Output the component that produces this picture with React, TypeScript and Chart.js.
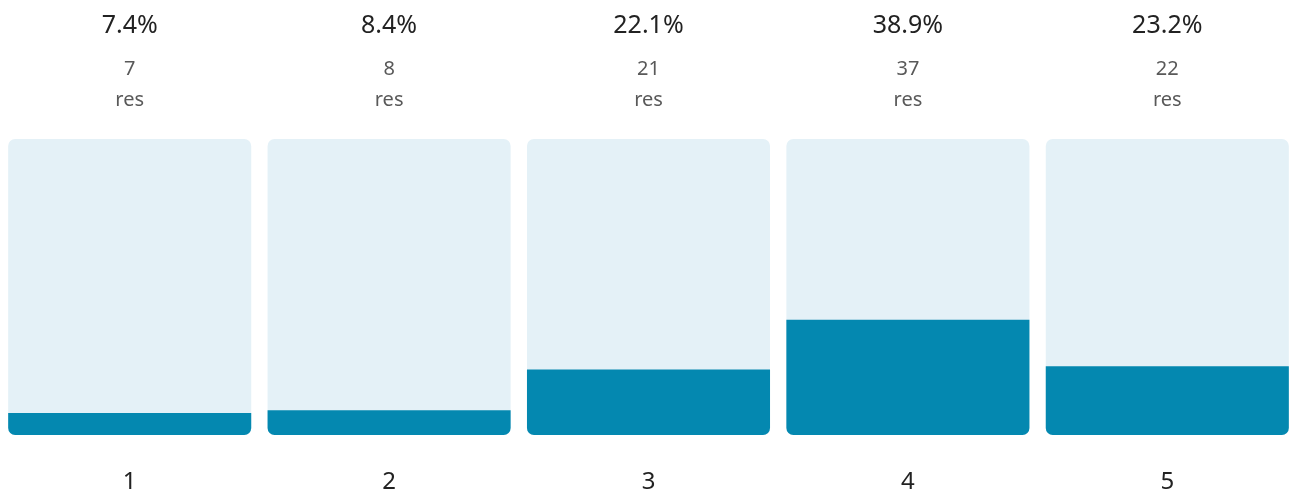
import { useEffect, useRef } from 'react';
import { Chart, registerables } from 'chart.js';

Chart.register(...registerables);

const CATEGORIES = ['1', '2', '3', '4', '5'];
const PERCENTS = [7.4, 8.4, 22.1, 38.9, 23.2];
const COUNTS = [7, 8, 21, 37, 22];
const TRACK = [100, 100, 100, 100, 100];

const DARK = '#0488B0';
const LIGHT = '#E4F1F7';
const FONT = '"Noto Sans", "Open Sans", sans-serif';

const topLabels = {
  id: 'topLabels',
  afterDraw(chart: Chart) {
    const { ctx } = chart;
    const x = chart.scales.x;
    ctx.save();
    ctx.textAlign = 'center';
    ctx.textBaseline = 'middle';
    CATEGORIES.forEach((_, i) => {
      const px = x.getPixelForValue(i);
      ctx.fillStyle = '#222222';
      ctx.font = `25px ${FONT}`;
      ctx.fillText(`${PERCENTS[i]}%`, px, 26);
      ctx.fillStyle = '#595959';
      ctx.font = `20px ${FONT}`;
      ctx.fillText(String(COUNTS[i]), px, 69);
      ctx.fillText('res', px, 100);
    });
    ctx.restore();
  },
};

export default function App() {
  const canvasRef = useRef<HTMLCanvasElement>(null);
  const chartRef = useRef<Chart | null>(null);

  useEffect(() => {
    document.body.style.margin = '0';
    if (!canvasRef.current) return;
    if (chartRef.current) chartRef.current.destroy();

    chartRef.current = new Chart(canvasRef.current, {
      type: 'bar',
      data: {
        labels: CATEGORIES,
        datasets: [
          {
            data: PERCENTS,
            backgroundColor: DARK,
            grouped: false,
            order: 0,
            borderSkipped: false,
            borderRadius: { topLeft: 0, topRight: 0, bottomLeft: 7, bottomRight: 7 },
            barPercentage: 0.937,
            categoryPercentage: 1,
          },
          {
            data: TRACK,
            backgroundColor: LIGHT,
            grouped: false,
            order: 1,
            borderSkipped: false,
            borderRadius: 7,
            barPercentage: 0.937,
            categoryPercentage: 1,
          },
        ],
      },
      options: {
        responsive: true,
        maintainAspectRatio: false,
        animation: false,
        layout: { padding: { top: 139, left: 0, right: 0, bottom: 0 } },
        plugins: {
          legend: { display: false },
          tooltip: { enabled: false },
        },
        scales: {
          x: {
            grid: { display: false, drawTicks: false },
            border: { display: false },
            ticks: {
              color: '#222222',
              padding: 33,
              font: { family: FONT, size: 24 },
            },
            afterFit: (scale) => { scale.height = 60; },
          },
          y: {
            display: false,
            min: 0,
            max: 100,
          },
        },
      },
      plugins: [topLabels],
    });

    return () => { chartRef.current?.destroy(); };
  }, []);

  return (
    <div style={{ width: '1289px', height: '495px', overflow: 'hidden', position: 'relative' }}>
      <div style={{ position: 'absolute', left: 0, top: 0, width: '1297px', height: '495px' }}>
        <canvas ref={canvasRef} />
      </div>
    </div>
  );
}
